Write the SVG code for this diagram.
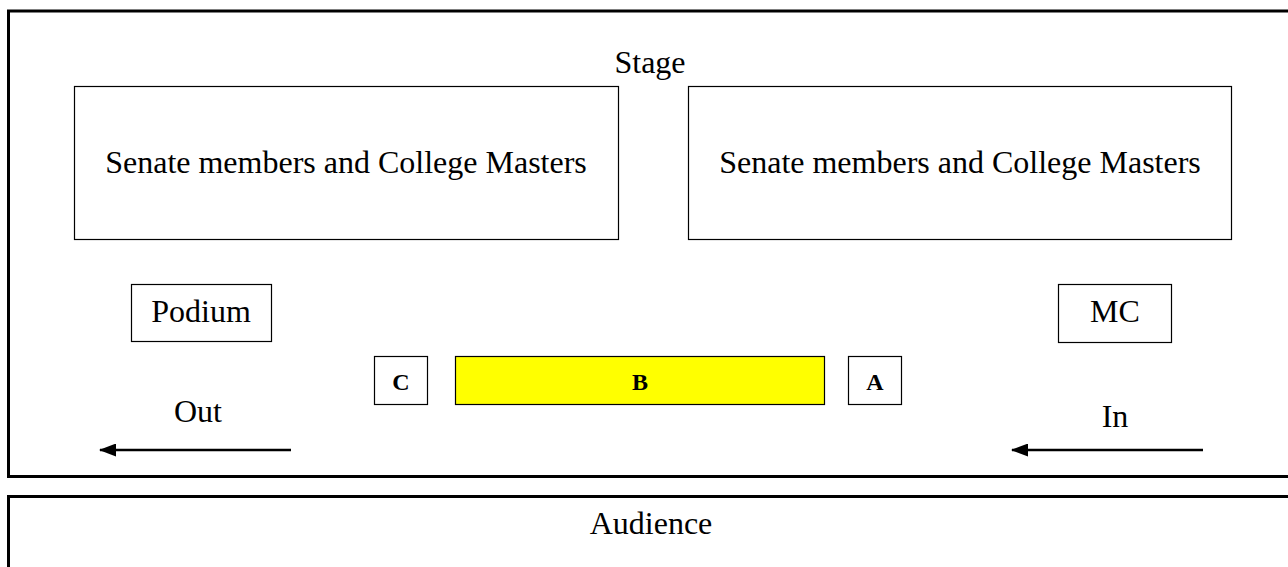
<svg xmlns="http://www.w3.org/2000/svg" width="1288" height="567" viewBox="0 0 1288 567">
<style>
.area{fill:none;stroke:#000;stroke-width:3}
.box{fill:#fff;stroke:#000;stroke-width:1.2}
.t{font-family:"Liberation Serif","Times New Roman",serif;font-size:32px;fill:#000;text-anchor:middle}
.b{font-family:"Liberation Serif","Times New Roman",serif;font-size:24px;font-weight:bold;fill:#000;text-anchor:middle}
.arr{stroke:#000;stroke-width:2.5;fill:none;marker-end:url(#ah)}
</style>
<defs>
<marker id="ah" markerWidth="17" markerHeight="13" refX="16" refY="6.5" orient="auto" markerUnits="userSpaceOnUse">
<path d="M0,0 L17,6.5 L0,13 Z" fill="#000"/>
</marker>
</defs>
<rect width="1288" height="567" fill="#fff"/>
<g id="stage">
<rect class="area" x="8.5" y="11" width="1300" height="465.5"/>
<text class="t" x="650" y="73">Stage</text>
</g>
<g id="audience">
<rect class="area" x="8.5" y="496.5" width="1300" height="100"/>
<text class="t" x="651" y="534">Audience</text>
</g>
<g id="senate-left">
<rect class="box" x="74.5" y="86.5" width="544" height="153"/>
<text class="t" x="346" y="173">Senate members and College Masters</text>
</g>
<g id="senate-right">
<rect class="box" x="688.5" y="86.5" width="543" height="153"/>
<text class="t" x="960" y="173">Senate members and College Masters</text>
</g>
<g id="podium">
<rect class="box" x="131.5" y="284.5" width="140" height="57"/>
<text class="t" x="201" y="322">Podium</text>
</g>
<g id="mc">
<rect class="box" x="1058.5" y="284.5" width="113" height="58"/>
<text class="t" x="1115" y="322">MC</text>
</g>
<g id="c">
<rect class="box" x="374.5" y="356.5" width="53" height="48"/>
<text class="b" x="401" y="390">C</text>
</g>
<g id="b">
<rect x="455.5" y="356.5" width="369" height="48" fill="#ffff00" stroke="#000" stroke-width="1.2"/>
<text class="b" x="640" y="390">B</text>
</g>
<g id="a">
<rect class="box" x="848.5" y="356.5" width="53" height="48"/>
<text class="b" x="875" y="390">A</text>
</g>
<g id="out-label"><text class="t" x="198" y="422">Out</text></g>
<g id="in-label"><text class="t" x="1115" y="427">In</text></g>
<g id="connectors">
<line class="arr" x1="291" y1="450" x2="100" y2="450"/>
<line class="arr" x1="1203" y1="450" x2="1012" y2="450"/>
</g>
</svg>
